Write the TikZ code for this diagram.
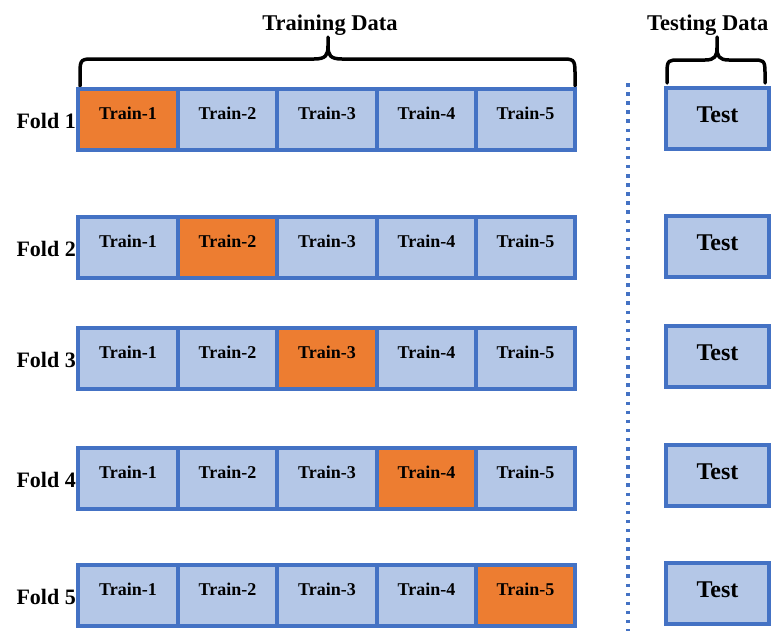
\documentclass[tikz,border=0pt]{standalone}
\usepackage{fontspec}
\setmainfont{Liberation Serif}
\definecolor{cblue}{HTML}{4472C4}
\definecolor{clight}{HTML}{B4C7E7}
\definecolor{corange}{HTML}{ED7D31}
\begin{document}
\begin{tikzpicture}[x=1pt,y=-1pt,
  cell/.style={draw=cblue, line width=3.8pt, minimum width=99.5pt, minimum height=61pt, inner sep=0pt},
  celltext/.style={inner sep=0pt, font=\bfseries\fontsize{18}{18}\selectfont},
  testbox/.style={draw=cblue, line width=3.8pt, fill=clight, minimum width=103pt, minimum height=61pt, inner sep=0pt},
  testtext/.style={inner sep=0pt, font=\bfseries\fontsize{24}{24}\selectfont},
  foldlbl/.style={anchor=east, inner sep=0pt, font=\bfseries\fontsize{22}{22}\selectfont},
  titletext/.style={anchor=base, inner sep=0pt, font=\bfseries\fontsize{22.5}{22.5}\selectfont},
  bracepath/.style={line width=3.5pt, line cap=round, line join=round},
  sep/.style={cblue, line width=3.5pt, dash pattern=on 3.5pt off 5.6pt}
]
\useasboundingbox (0,0) rectangle (771,630);

% titles
\node[titletext] (trtitle) at (330,30) {Training Data};
\node[titletext, anchor=base west] (tetitle) at (647,30) {Testing Data};

% braces
\draw[bracepath] (80,86) -- (80,72) .. controls (80,59) and (82,59) .. (94,59) -- (314,59)
  .. controls (326,59) and (328,55) .. (328,46) -- (328,37);
\draw[bracepath] (328,46) .. controls (328,55) and (330,59) .. (342,59) -- (561,59)
  .. controls (573,59) and (575,59) .. (575,72) -- (575,86);
\draw[bracepath] (667,83) -- (667,72) .. controls (667,60) and (669,60) .. (679,60) -- (705,60)
  .. controls (715,60) and (717,56) .. (717,48) -- (717,37);
\draw[bracepath] (717,48) .. controls (717,56) and (719,60) .. (729,60) -- (753,60)
  .. controls (763,60) and (765,60) .. (765,72) -- (765,83);

% dotted separator
\coordinate (septop) at (628,83);
\coordinate (sepbot) at (628,632);
\draw[sep] (septop) -- (sepbot);

% folds
\foreach \r/\ty/\tt in {1/89/88, 2/217/216, 3/328/326, 4/448/445, 5/565/563} {
  \node[foldlbl] (fold\r) at (76,\ty+32) {Fold \r};
  \foreach \c/\cx in {1/128, 2/227.5, 3/327, 4/426.5, 5/525.5} {
    \ifnum\c=\r \def\fc{corange}\else\def\fc{clight}\fi
    \node[cell, fill=\fc] (r\r c\c) at (\cx,\ty+30.5) {};
  }
  \node[testbox] (test\r) at (717.5,\tt+30.5) {};
}
\foreach \r in {1,...,5} {
  \foreach \c in {1,...,5} {
    \node[celltext, yshift=6pt] (t\r c\c) at (r\r c\c.center) {Train-\c};
  }
  \node[testtext, yshift=3.5pt] (tt\r) at (test\r.center) {Test};
}
\end{tikzpicture}
\end{document}
